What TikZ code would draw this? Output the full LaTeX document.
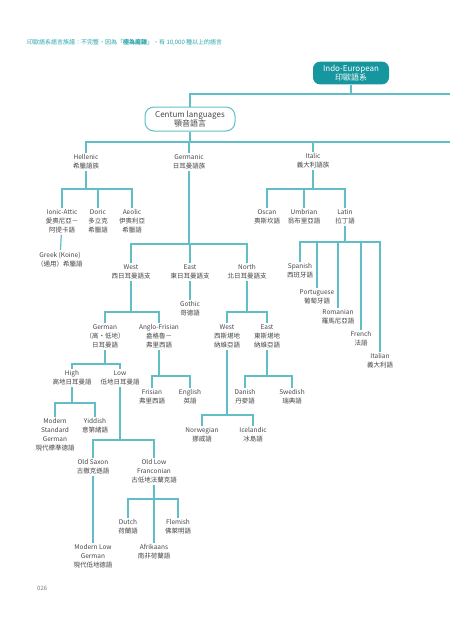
\documentclass[tikz,border=0pt]{standalone}
\usepackage{fontspec}
\setmainfont{Noto Sans CJK TC}
\usepackage{tikz}
\usepackage{xcolor}
\usetikzlibrary{positioning}
\definecolor{lineteal}{RGB}{98,190,198}
\definecolor{boxteal}{RGB}{22,150,158}
\definecolor{capteal}{RGB}{40,165,172}
\definecolor{labelgray}{RGB}{70,70,70}
\tikzstyle{root} = [rectangle, rounded corners=7pt, 
minimum width=76pt, 
minimum height=22pt, 
fill=boxteal, 
text=white, 
align=center, 
font=\fontsize{8}{9}\selectfont]
\tikzstyle{group} = [rectangle, rounded corners=9pt, 
minimum width=90pt, 
minimum height=24pt, 
draw=lineteal, line width=1pt, 
fill=white, 
text=labelgray, 
align=center, 
font=\fontsize{8}{9}\selectfont]
\tikzstyle{lang} = [anchor=north, 
inner sep=1.5pt, 
align=center, 
text=labelgray, 
font=\fontsize{6.5}{9}\selectfont]
\tikzstyle{branch} = [draw=lineteal, line width=1.2pt]

\begin{document}
\begin{tikzpicture}[x=1pt, y=-1pt]
        \useasboundingbox[fill=white] (0,0) rectangle (450,630);

        % --- Título y página ---
        \node (caption) [anchor=west, inner sep=0pt, text=capteal, font=\fontsize{6}{7}\selectfont] at (27,42) {印歐語系語言族譜：不完整，因為「\textbf{極為龐雜}」，有 10,000 種以上的語言};
        \node (page) [anchor=west, inner sep=0pt, text=gray, font=\fontsize{6}{7}\selectfont] at (37,588) {026};

        % --- Nodos principales ---
        \node (ie) [root] at (351,73) {Indo-European\\印歐語系};
        \node (centum) [group] at (190,119) {Centum languages\\顎音語言};

        \node (hellenic) [lang] at (86,153) {Hellenic\\希臘語族};
        \node (germanic) [lang] at (189,153) {Germanic\\日耳曼語族};
        \node (italic) [lang] at (313,152) {Italic\\義大利語族};

        % --- Hellenic ---
        \node (ionic) [lang] at (62,208) {Ionic-Attic\\愛奧尼亞－\\阿提卡語};
        \node (doric) [lang] at (98,208) {Doric\\多立克\\希臘語};
        \node (aeolic) [lang] at (132,208) {Aeolic\\伊奧利亞\\希臘語};
        \node (koine) [lang] at (60,250) {Greek (Koine)\\（通用）希臘語};

        % --- Italic ---
        \node (oscan) [lang] at (267,208) {Oscan\\奧斯坎語};
        \node (umbrian) [lang] at (304,208) {Umbrian\\翁布里亞語};
        \node (latin) [lang] at (345,208) {Latin\\拉丁語};
        \node (spanish) [lang] at (300,262) {Spanish\\西班牙語};
        \node (portuguese) [lang] at (317,288) {Portuguese\\葡萄牙語};
        \node (romanian) [lang] at (338,308) {Romanian\\羅馬尼亞語};
        \node (french) [lang] at (361,330) {French\\法語};
        \node (italian) [lang] at (380,352) {Italian\\義大利語};

        % --- Germanic ---
        \node (west) [lang] at (131,263) {West\\西日耳曼語支};
        \node (east) [lang] at (190,263) {East\\東日耳曼語支};
        \node (north) [lang] at (247,263) {North\\北日耳曼語支};
        \node (gothic) [lang] at (190,300) {Gothic\\哥德語};

        \node (german) [lang] at (105,323) {German\\（高・低地）\\日耳曼語};
        \node (anglo) [lang] at (159,323) {Anglo-Frisian\\盎格魯－\\弗里西語};
        \node (nwest) [lang] at (227,323) {West\\西斯堪地\\納維亞語};
        \node (neast) [lang] at (267,323) {East\\東斯堪地\\納維亞語};

        \node (high) [lang] at (72,369) {High\\高地日耳曼語};
        \node (low) [lang] at (120,369) {Low\\低地日耳曼語};
        \node (frisian) [lang] at (152,388) {Frisian\\弗里西語};
        \node (english) [lang] at (190,388) {English\\英語};
        \node (danish) [lang] at (245,388) {Danish\\丹麥語};
        \node (swedish) [lang] at (292,388) {Swedish\\瑞典語};
        \node (norwegian) [lang] at (202,426) {Norwegian\\挪威語};
        \node (icelandic) [lang] at (253,426) {Icelandic\\冰島語};

        \node (standard) [lang] at (55,417) {Modern\\Standard\\German\\現代標準德語};
        \node (yiddish) [lang] at (95,417) {Yiddish\\意第緒語};
        \node (oldsaxon) [lang] at (93,458) {Old Saxon\\古撒克遜語};
        \node (franconian) [lang] at (154,458) {Old Low\\Franconian\\古低地法蘭克語};
        \node (dutch) [lang] at (128,518) {Dutch\\荷蘭語};
        \node (flemish) [lang] at (178,518) {Flemish\\佛萊明語};
        \node (afrikaans) [lang] at (154,543) {Afrikaans\\南非荷蘭語};
        \node (lowgerman) [lang] at (93,543) {Modern Low\\German\\現代低地德語};

        % --- Puntos de las barras ---
        \coordinate (iebar) at (351,94);
        \coordinate (ieend) at (450,94);
        \coordinate (cbar) at (190,142);
        \coordinate (cend) at (450,142);
        \coordinate (hbar) at (86,189);
        \coordinate (ibar) at (313,189);
        \coordinate (lbar) at (345,242);
        \coordinate (gbar) at (189,244);
        \coordinate (wbar) at (131,312);
        \coordinate (nbar) at (247,312);
        \coordinate (germbar) at (105,364);
        \coordinate (afbar) at (159,376);
        \coordinate (nebar) at (267,376);
        \coordinate (nwbar) at (227,415);
        \coordinate (hibar) at (72,403);
        \coordinate (lobar) at (120,440);
        \coordinate (olfbar) at (154,499);

        % --- Conexiones ---
        \draw [branch] (ie) -- (iebar);
        \draw [branch] (centum) |- (ieend);
        \draw [branch] (centum) -- (cbar);
        \draw [branch] (hellenic) |- (cend);
        \draw [branch] (germanic) |- (cbar);
        \draw [branch] (italic) |- (cbar);

        % Hellenic
        \draw [branch] (hellenic) -- (hbar);
        \draw [branch] (ionic) |- (hbar);
        \draw [branch] (doric) |- (hbar);
        \draw [branch] (aeolic) |- (hbar);
        \draw [branch] (ionic) -- (koine);

        % Italic
        \draw [branch] (italic) -- (ibar);
        \draw [branch] (oscan) |- (ibar);
        \draw [branch] (umbrian) |- (ibar);
        \draw [branch] (latin) |- (ibar);
        \draw [branch] (latin) -- (lbar);
        \draw [branch] (spanish) |- (lbar);
        \draw [branch] (portuguese) |- (lbar);
        \draw [branch] (romanian) |- (lbar);
        \draw [branch] (french) |- (lbar);
        \draw [branch] (italian) |- (lbar);

        % Germanic
        \draw [branch] (germanic) -- (gbar);
        \draw [branch] (west) |- (gbar);
        \draw [branch] (east) |- (gbar);
        \draw [branch] (north) |- (gbar);
        \draw [branch] (east) -- (gothic);

        \draw [branch] (west) -- (wbar);
        \draw [branch] (german) |- (wbar);
        \draw [branch] (anglo) |- (wbar);
        \draw [branch] (north) -- (nbar);
        \draw [branch] (nwest) |- (nbar);
        \draw [branch] (neast) |- (nbar);

        \draw [branch] (german) -- (germbar);
        \draw [branch] (high) |- (germbar);
        \draw [branch] (low) |- (germbar);
        \draw [branch] (anglo) -- (afbar);
        \draw [branch] (frisian) |- (afbar);
        \draw [branch] (english) |- (afbar);
        \draw [branch] (neast) -- (nebar);
        \draw [branch] (danish) |- (nebar);
        \draw [branch] (swedish) |- (nebar);
        \draw [branch] (nwest) -- (nwbar);
        \draw [branch] (norwegian) |- (nwbar);
        \draw [branch] (icelandic) |- (nwbar);

        % High / Low
        \draw [branch] (high) -- (hibar);
        \draw [branch] (standard) |- (hibar);
        \draw [branch] (yiddish) |- (hibar);
        \draw [branch] (low) -- (lobar);
        \draw [branch] (oldsaxon) |- (lobar);
        \draw [branch] (franconian) |- (lobar);
        \draw [branch] (oldsaxon) -- (lowgerman);

        % Old Low Franconian
        \draw [branch] (franconian) -- (afrikaans);
        \draw [branch] (dutch) |- (olfbar);
        \draw [branch] (flemish) |- (olfbar);

    \end{tikzpicture}
\end{document}
